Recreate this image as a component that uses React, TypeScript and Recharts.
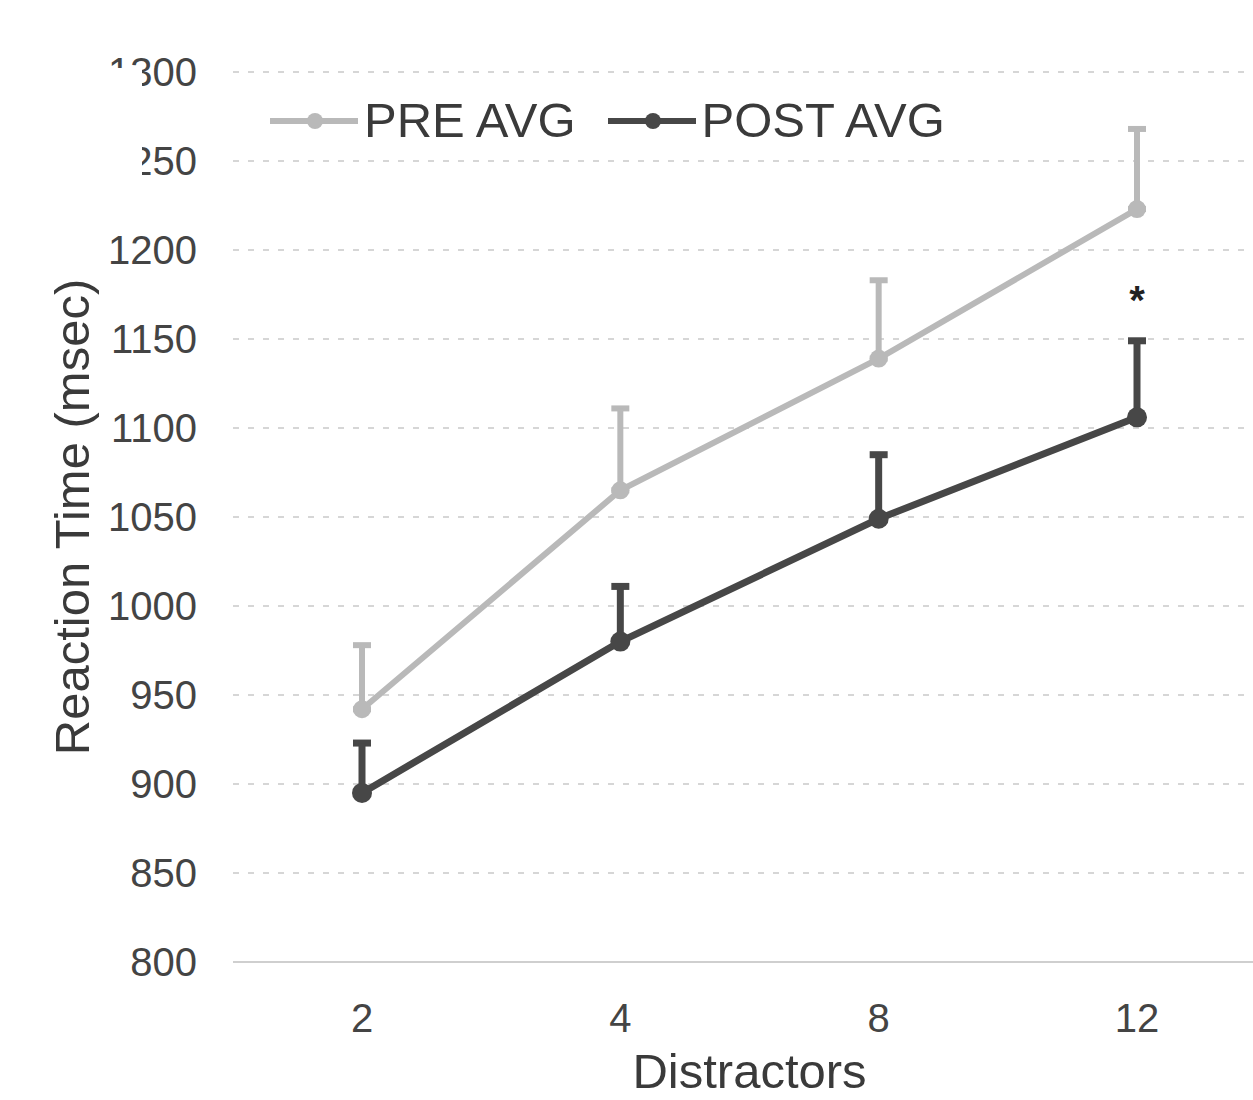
import React from 'react';
import { LineChart, Line, XAxis, YAxis, CartesianGrid, ErrorBar, Legend, ReferenceDot } from 'recharts';

// values (msec)
const distractors = ['2', '4', '8', '12'];
const preAvg = [942, 1065, 1139, 1223];
const preErr = [36, 46, 44, 45];
const postAvg = [895, 980, 1049, 1106];
const postErr = [28, 31, 36, 43];
const yTicks = [800, 850, 900, 950, 1000, 1050, 1100, 1150, 1200, 1250, 1300];
const seriesOrder = ['PRE AVG', 'POST AVG'];

const PRE_COLOR = '#b9b9b9';
const POST_COLOR = '#474747';
const FONT = '"Liberation Sans", Arial, sans-serif';

const chartData = distractors.map((d, i) => ({
  distractors: d,
  pre: preAvg[i],
  preErr: [0, preErr[i]],
  post: postAvg[i],
  postErr: [0, postErr[i]],
}));

const renderLegend = (props: any) => {
  const payload = [...(props.payload || [])].sort(
    (a: any, b: any) => seriesOrder.indexOf(a.value) - seriesOrder.indexOf(b.value)
  );
  return (
    <div style={{ display: 'flex', alignItems: 'center', fontFamily: FONT, fontSize: 49, lineHeight: '49px', color: '#3a3a3a' }}>
      {payload.map((entry: any, i: number) => (
        <div key={`leg-${i}`} style={{ display: 'flex', alignItems: 'center', marginRight: 32 }}>
          <svg width={88} height={20} style={{ marginRight: 6 }}>
            <line x1={0} y1={10} x2={88} y2={10} stroke={entry.color} strokeWidth={6} />
            <circle cx={45} cy={10} r={8} fill={entry.color} />
          </svg>
          <span>{entry.value}</span>
        </div>
      ))}
    </div>
  );
};

const renderYLabel = (props: any) => {
  const { viewBox } = props;
  const cx = viewBox.x + 72;
  const cy = viewBox.y + viewBox.height / 2;
  return (
    <text
      x={cx}
      y={cy}
      transform={`rotate(-90, ${cx}, ${cy})`}
      textAnchor="middle"
      dominantBaseline="central"
      fontFamily={FONT}
      fontSize={49}
      fill="#3a3a3a"
    >
      Reaction Time (msec)
    </text>
  );
};

export default function App() {
  return (
    <div style={{ position: 'absolute', left: 0, top: 0, width: 1253, height: 1100, overflow: 'hidden', background: '#fff' }}>
      <LineChart width={1280} height={1100} data={chartData} margin={{ top: 72, right: 14, left: 0, bottom: 0 }}>
        <CartesianGrid vertical={false} stroke="#d6d6d6" strokeWidth={2} strokeDasharray="6 9" />
        <XAxis
          dataKey="distractors"
          height={138}
          padding={{ left: 129, right: 129 }}
          tickLine={false}
          tickSize={0}
          tickMargin={42}
          axisLine={{ stroke: '#cfcfcf', strokeWidth: 2 }}
          tick={{ fill: '#444', fontSize: 40, fontFamily: FONT }}
          label={{ value: 'Distractors', position: 'insideBottom', offset: 12, fill: '#3a3a3a', fontSize: 49, fontFamily: FONT }}
        />
        <YAxis
          width={233}
          domain={[800, 1300]}
          ticks={yTicks}
          interval={0}
          axisLine={false}
          tickLine={false}
          tickSize={0}
          tickMargin={36}
          tick={{ fill: '#444', fontSize: 40, fontFamily: FONT }}
          label={{ content: renderYLabel }}
        />
        <Legend
          layout="horizontal"
          verticalAlign="middle"
          align="center"
          content={renderLegend}
          wrapperStyle={{ top: 96, left: 270, width: 'auto' }}
        />
        <Line
          type="linear"
          dataKey="pre"
          name="PRE AVG"
          stroke={PRE_COLOR}
          strokeWidth={6}
          dot={{ r: 9, fill: PRE_COLOR, stroke: PRE_COLOR, strokeWidth: 0 }}
          activeDot={false}
          isAnimationActive={false}
        >
          <ErrorBar dataKey="preErr" direction="y" width={9} stroke={PRE_COLOR} strokeWidth={6} isAnimationActive={false} />
        </Line>
        <Line
          type="linear"
          dataKey="post"
          name="POST AVG"
          stroke={POST_COLOR}
          strokeWidth={7}
          dot={{ r: 10, fill: POST_COLOR, stroke: POST_COLOR, strokeWidth: 0 }}
          activeDot={false}
          isAnimationActive={false}
        >
          <ErrorBar dataKey="postErr" direction="y" width={9} stroke={POST_COLOR} strokeWidth={7} isAnimationActive={false} />
        </Line>
        <ReferenceDot
          x="12"
          y={1172}
          r={0}
          ifOverflow="visible"
          label={{ value: '*', position: 'center', fill: '#222', fontSize: 40, fontWeight: 'bold', fontFamily: FONT }}
        />
      </LineChart>
      {/* white patch over the top-left corner, as in the scan */}
      <div style={{ position: 'absolute', left: 0, top: 68, width: 142, height: 112, background: '#fff' }} />
    </div>
  );
}
